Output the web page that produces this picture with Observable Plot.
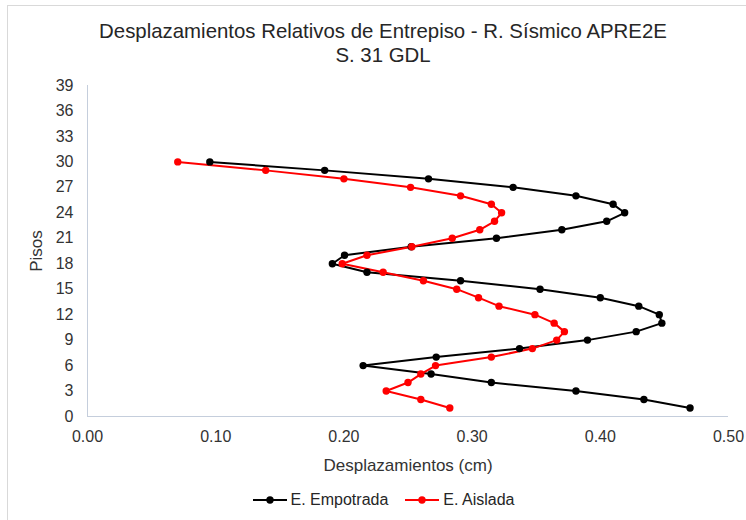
<!DOCTYPE html>
<html><head><meta charset="utf-8">
<script src="https://cdn.jsdelivr.net/npm/d3@7"></script>
<script src="https://cdn.jsdelivr.net/npm/@observablehq/plot@0.6"></script>
<style>
body{margin:0;background:#fff;font-family:"Liberation Sans",Arial,sans-serif;}
#wrap{position:relative;width:746px;height:520px;overflow:hidden;background:#fff}
#frame{position:absolute;left:7px;top:5px;width:760px;height:540px;border:1px solid #d9d9d9;box-sizing:border-box;}
#title{position:absolute;left:0;width:766px;top:19px;text-align:center;font-size:20.4px;line-height:24px;color:#262626}
#chart{position:absolute;left:0;top:0}
#legend{position:absolute;left:0;width:766px;top:491px;text-align:center;font-size:16px;color:#262626;white-space:nowrap}
.item{display:inline-flex;align-items:center;margin:0 8px}
.item svg{margin-right:3px}
</style></head>
<body>
<div id="wrap">
<div id="frame"></div>
<div id="chart"></div>
<div id="title">Desplazamientos Relativos de Entrepiso - R. Sísmico APRE2E<br>S. 31 GDL</div>
<div id="legend"></div>
</div>
<script>
const floors = [1,2,3,4,5,6,7,8,9,10,11,12,13,14,15,16,17,18,19,20,21,22,23,24,25,26,27,28,29,30];
const empotrada = [0.470,0.434,0.381,0.315,0.268,0.215,0.272,0.337,0.390,0.428,0.448,0.446,0.430,0.400,0.353,0.291,0.218,0.191,0.2005,0.2525,0.319,0.370,0.405,0.419,0.410,0.381,0.332,0.266,0.185,0.0954];
const aislada = [0.2826,0.260,0.233,0.250,0.260,0.2715,0.315,0.347,0.366,0.372,0.364,0.349,0.321,0.305,0.288,0.262,0.2306,0.1987,0.218,0.253,0.2845,0.306,0.3175,0.323,0.315,0.291,0.252,0.200,0.139,0.0704];
const seriesNames = ["E. Empotrada","E. Aislada"];
const seriesColors = ["#000000","#ff0000"];
const xTicks = [0,0.1,0.2,0.3,0.4,0.5];
const yTicks = [0,3,6,9,12,15,18,21,24,27,30,33,36,39];

const data = [];
floors.forEach((f,i)=>{
  data.push({serie:seriesNames[0], piso:f, d:empotrada[i]});
});
floors.forEach((f,i)=>{
  data.push({serie:seriesNames[1], piso:f, d:aislada[i]});
});

const chart = Plot.plot({
  width:746, height:520,
  marginLeft:87, marginRight:18, marginTop:85, marginBottom:104,
  style:{fontSize:"16px", fontFamily:"'Liberation Sans', Arial, sans-serif", color:"#333", background:"transparent"},
  x:{domain:[0,0.5]},
  y:{domain:[0,39]},
  color:{domain:seriesNames, range:seriesColors},
  marks:[
    Plot.ruleX([0],{stroke:"#c5cedc", strokeWidth:1}),
    Plot.ruleY([0],{stroke:"#c5cedc", strokeWidth:1}),
    Plot.axisX({ticks:xTicks, tickFormat:d3.format(".2f"), tickSize:0, tickPadding:14, label:null, fill:"#333"}),
    Plot.axisX({ticks:[], label:"Desplazamientos (cm)", labelAnchor:"center", labelArrow:"none", labelOffset:54, fontSize:17, fill:"#333"}),
    Plot.axisY({anchor:"left", ticks:yTicks, tickSize:0, tickPadding:14, label:null, fill:"#333"}),
    Plot.axisY({anchor:"left", ticks:[], label:"Pisos", labelAnchor:"center", labelArrow:"none", labelOffset:58, fontSize:17, fill:"#333"}),
    Plot.line(data,{x:"d", y:"piso", z:"serie", stroke:"serie", strokeWidth:2}),
    Plot.dot(data,{x:"d", y:"piso", fill:"serie", r:3.7})
  ]
});
document.getElementById("chart").appendChild(chart);

const leg = document.getElementById("legend");
seriesNames.forEach((n,i)=>{
  const it = document.createElement("span");
  it.className="item";
  it.innerHTML = `<svg width="36" height="10"><line x1="1" y1="5" x2="35" y2="5" stroke="${seriesColors[i]}" stroke-width="2"/><circle cx="18" cy="5" r="3.7" fill="${seriesColors[i]}"/></svg>`;
  const t = document.createElement("span"); t.textContent = n; it.appendChild(t);
  leg.appendChild(it);
});
</script>
</body></html>
